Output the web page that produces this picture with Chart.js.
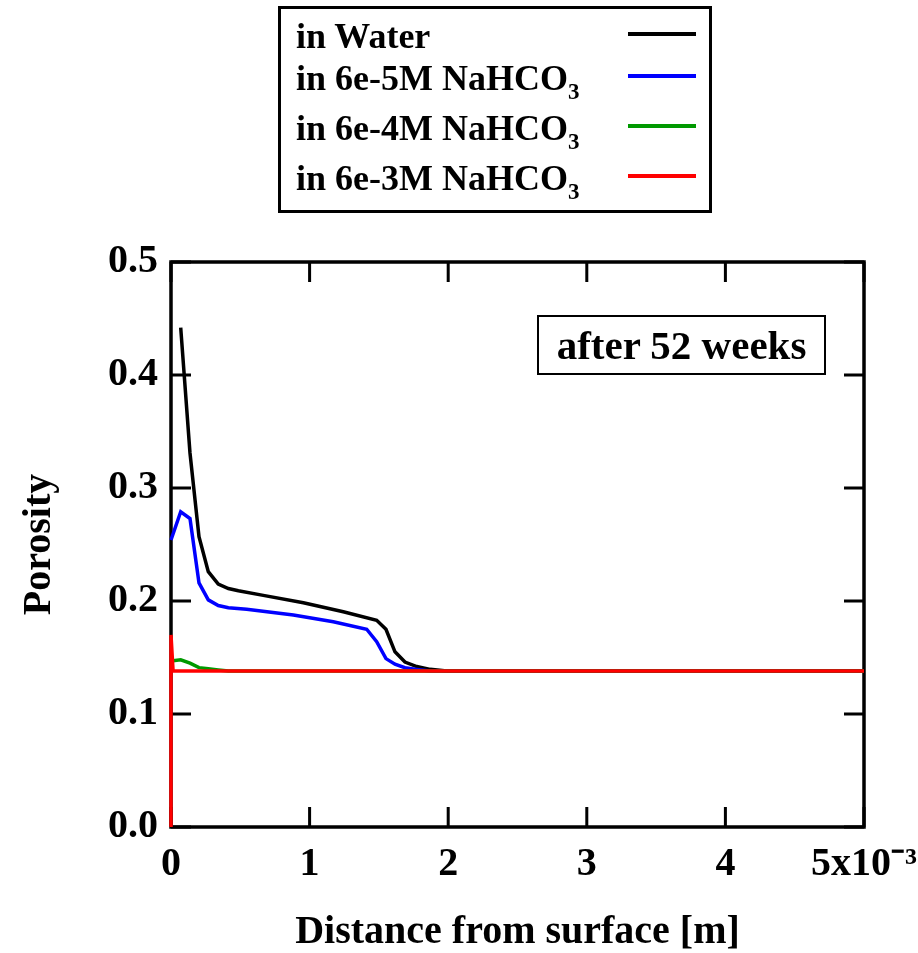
<!DOCTYPE html>
<html>
<head>
<meta charset="utf-8">
<title>Porosity after 52 weeks</title>
<script src="https://cdn.jsdelivr.net/npm/chart.js@4.4.0/dist/chart.umd.min.js"></script>
<style>
body { margin: 0; background: #fff; }
#wrap { position: relative; width: 918px; height: 953px; font-family: "Liberation Serif", "Times New Roman", serif; font-weight: bold; color: #000; }
#porosityChart { position: absolute; left: 0; top: 0; }
#legend { position: absolute; left: 278px; top: 6px; width: 428px; height: 201px; border: 3px solid #000; }
.row { position: absolute; left: 15px; font-size: 36px; line-height: 36px; white-space: nowrap; }
.row sub { font-size: 23px; vertical-align: -9px; line-height: 0; }
.swatch { position: absolute; left: 347px; width: 68px; height: 4px; }
#note { position: absolute; left: 537px; top: 315px; width: 285px; height: 56px; border: 2px solid #000; font-size: 41px; line-height: 56px; text-align: center; white-space: nowrap; }
</style>
</head>
<body>
<div id="wrap">
  <canvas id="porosityChart" width="918" height="953"></canvas>
  <div id="legend"></div>
  <div id="note">after 52 weeks</div>
</div>
<script>
// distances in units of 1e-3 m, porosity as fraction
var seriesNames = ['in Water', 'in 6e-5M NaHCO3', 'in 6e-4M NaHCO3', 'in 6e-3M NaHCO3'];
var seriesColors = ['#000000', '#0000ff', '#009900', '#ff0000'];

var waterX = [0.07, 0.137, 0.202, 0.269, 0.341, 0.414, 0.486, 0.666, 0.955, 1.243, 1.484, 1.551, 1.616, 1.688, 1.773, 1.87, 1.99, 5.0];
var waterY = [0.442, 0.331, 0.257, 0.226, 0.215, 0.211, 0.209, 0.205, 0.1985, 0.1905, 0.183, 0.175, 0.155, 0.146, 0.142, 0.1395, 0.138, 0.138];

var low5X = [0, 0.07, 0.137, 0.202, 0.269, 0.341, 0.414, 0.546, 0.883, 1.171, 1.412, 1.484, 1.551, 1.616, 1.688, 1.773, 1.87, 5.0];
var low5Y = [0.254, 0.279, 0.273, 0.216, 0.201, 0.196, 0.194, 0.1926, 0.1876, 0.1817, 0.175, 0.164, 0.149, 0.144, 0.141, 0.1395, 0.138, 0.138];

var mid4X = [0, 0.07, 0.137, 0.202, 0.269, 0.341, 0.414, 5.0];
var mid4Y = [0.147, 0.148, 0.145, 0.141, 0.140, 0.139, 0.138, 0.138];

var high3X = [0, 0, 0.015, 5.0];
var high3Y = [0, 0.17, 0.138, 0.138];

var xTicks = [0, 1, 2, 3, 4, 5];
var xTickLabels = ['0', '1', '2', '3', '4', '5x10\u207B\u00B3'];

function toPoints(xs, ys) {
    return xs.map(function (x, i) { return { x: x, y: ys[i] }; });
}

var allX = [waterX, low5X, mid4X, high3X];
var allY = [waterY, low5Y, mid4Y, high3Y];

var datasets = seriesNames.map(function (name, i) {
    return {
        label: name,
        data: toPoints(allX[i], allY[i]),
        showLine: true,
        borderColor: seriesColors[i],
        backgroundColor: seriesColors[i],
        borderWidth: 3.5,
        pointRadius: 0,
        fill: false,
        tension: 0,
        clip: 4,
        order: seriesNames.length - 1 - i
    };
});

// legend as html so the subscript works
var legend = document.getElementById('legend');
var rowTops = [9, 51, 101, 151];
var lineTops = [23, 65, 115, 165];
seriesNames.forEach(function (name, i) {
    var row = document.createElement('div');
    row.className = 'row';
    row.style.top = rowTops[i] + 'px';
    row.innerHTML = name.replace('CO3', 'CO<sub>3</sub>');
    legend.appendChild(row);
    var sw = document.createElement('div');
    sw.className = 'swatch';
    sw.style.top = lineTops[i] + 'px';
    sw.style.background = seriesColors[i];
    legend.appendChild(sw);
});

var frameTicks = {
    id: 'frameTicks',
    beforeDatasetsDraw: function (chart) {
        var a = chart.chartArea, c = chart.ctx;
        var xs = chart.scales.x, ys = chart.scales.y;
        c.save();
        c.strokeStyle = '#000';
        c.lineWidth = 3;
        c.beginPath();
        xs.ticks.forEach(function (t) {
            var px = xs.getPixelForValue(t.value);
            c.moveTo(px, a.bottom); c.lineTo(px, a.bottom - 20);
            c.moveTo(px, a.top); c.lineTo(px, a.top + 20);
        });
        ys.ticks.forEach(function (t) {
            var py = ys.getPixelForValue(t.value);
            c.moveTo(a.left, py); c.lineTo(a.left + 20, py);
            c.moveTo(a.right, py); c.lineTo(a.right - 20, py);
        });
        c.stroke();
        c.lineWidth = 3.5;
        c.strokeRect(a.left, a.top, a.right - a.left, a.bottom - a.top);
        c.restore();
    }
};

var serif = '"Liberation Serif", "Times New Roman", serif';

var ctx = document.getElementById('porosityChart').getContext('2d');
var chart = new Chart(ctx, {
    type: 'scatter',
    data: { datasets: datasets },
    options: {
        responsive: false,
        animation: false,
        devicePixelRatio: 1,
        layout: { padding: { top: 262, right: 54, left: 0, bottom: 0 } },
        plugins: { legend: { display: false }, tooltip: { enabled: false } },
        scales: {
            x: {
                type: 'linear',
                min: 0,
                max: 5,
                afterBuildTicks: function (s) { s.ticks = xTicks.map(function (v) { return { value: v }; }); },
                afterFit: function (s) { s.height = 126; s.paddingLeft = 0; s.paddingRight = 0; },
                ticks: {
                    callback: function (v) { return xTickLabels[xTicks.indexOf(v)]; },
                    color: '#000',
                    padding: 14,
                    maxRotation: 0,
                    autoSkip: false,
                    font: { family: serif, size: 40, weight: 'bold' }
                },
                grid: { display: false, drawTicks: false },
                border: { display: false },
                title: {
                    display: true,
                    text: 'Distance from surface [m]',
                    color: '#000',
                    padding: { top: 0, bottom: 0 },
                    font: { family: serif, size: 40, weight: 'bold', lineHeight: 1 }
                }
            },
            y: {
                min: 0,
                max: 0.5,
                afterFit: function (s) { s.width = 171; },
                ticks: {
                    stepSize: 0.1,
                    callback: function (v) { return v.toFixed(1); },
                    color: '#000',
                    padding: 13,
                    font: { family: serif, size: 40, weight: 'bold' }
                },
                grid: { display: false, drawTicks: false },
                border: { display: false },
                title: {
                    display: true,
                    text: 'Porosity',
                    color: '#000',
                    padding: { top: 20, bottom: 0 },
                    font: { family: serif, size: 40, weight: 'bold', lineHeight: 1 }
                }
            }
        }
    },
    plugins: [frameTicks]
});
</script>
</body>
</html>
